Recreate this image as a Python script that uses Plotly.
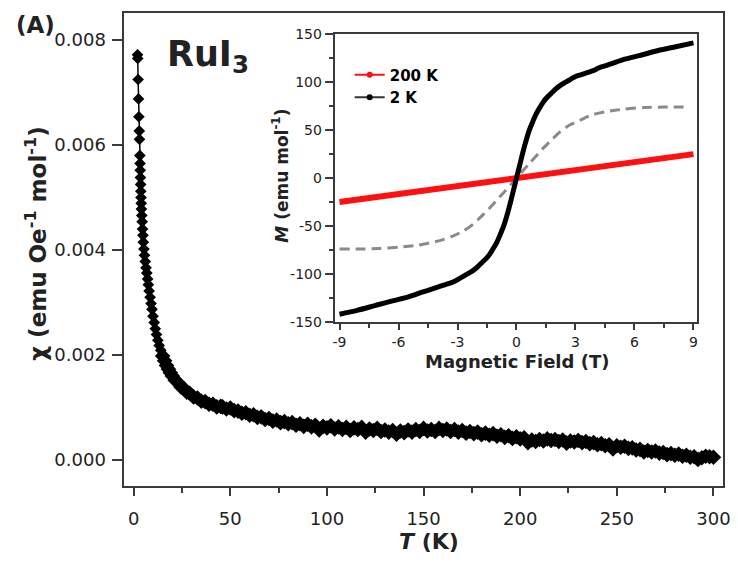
import plotly.graph_objects as go

W, H = 738, 568

# ---- main panel: chi(T) ----
temp_low = [2.0, 2.1, 2.3, 2.5, 2.7, 2.9, 3.0, 3.2, 3.3, 3.4, 3.5, 3.6, 3.7, 3.8, 3.9,
            4.0, 4.2, 4.4, 4.6, 4.8, 5.0, 5.3, 5.6, 6.0, 6.4, 6.8, 7.2, 7.6, 8.0, 8.5,
            9.0, 9.5, 10.0, 10.6, 11.2, 11.8, 12.5, 13.2, 14.0, 15.0, 16.0, 17.0, 18.0,
            19.0, 20.0, 21.5, 23.0, 24.5, 26.0, 27.5, 29.0, 31.0, 33.0, 35.0, 37.0,
            39.0, 41.0, 43.0, 45.0]
chi_low = [0.00772, 0.00765, 0.00725, 0.00688, 0.00654, 0.00627, 0.00611, 0.00580,
           0.00565, 0.00552, 0.00538, 0.00525, 0.00512, 0.00500, 0.00489, 0.00478,
           0.00466, 0.00454, 0.00440, 0.00428, 0.00415, 0.00402, 0.00390, 0.00378,
           0.00366, 0.00356, 0.00345, 0.00334, 0.00322, 0.00310, 0.00298, 0.00287,
           0.00274, 0.00262, 0.00250, 0.00239, 0.00228, 0.00218, 0.00209, 0.00198,
           0.00189, 0.00180, 0.00173, 0.00166, 0.00160, 0.00152, 0.00147, 0.00139,
           0.00136, 0.00129, 0.00127, 0.00120, 0.00118, 0.00112, 0.00111, 0.00106,
           0.00106, 0.00101, 0.00102]

temp_high = [46, 48, 50, 52, 54, 56, 58, 60, 62, 64, 66, 68, 70, 72, 74, 76, 78, 80,
             82, 84, 86, 88, 90, 92, 94, 96, 98, 100, 102, 104, 106, 108, 110, 112,
             114, 116, 118, 120, 122, 124, 126, 128, 130, 132, 134, 136, 138, 140,
             142, 144, 146, 148, 150, 152, 154, 156, 158, 160, 162, 164, 166, 168,
             170, 172, 174, 176, 178, 180, 182, 184, 186, 188, 190, 192, 194, 196,
             198, 200, 202, 204, 206, 208, 210, 212, 214, 216, 218, 220, 222, 224,
             226, 228, 230, 232, 234, 236, 238, 240, 242, 244, 246, 248, 250, 252,
             254, 256, 258, 260, 262, 264, 266, 268, 270, 272, 274, 276, 278, 280,
             282, 284, 286, 288, 290, 292, 294, 296, 298, 300]
chi_high = [0.00101, 0.00097, 0.00099, 0.00094, 0.00093, 0.00089, 0.00090, 0.00085,
            0.00086, 0.00081, 0.00082, 0.00077, 0.00079, 0.00074, 0.00076, 0.00071,
            0.00073, 0.00069, 0.00071, 0.00066, 0.00069, 0.00064, 0.00068, 0.00063,
            0.00066, 0.00057, 0.00064, 0.00061, 0.00065, 0.00059, 0.00063, 0.00058,
            0.00062, 0.00056, 0.00061, 0.00058, 0.00062, 0.00053, 0.00059, 0.00056,
            0.00060, 0.00054, 0.00057, 0.00053, 0.00056, 0.00049, 0.00055, 0.00052,
            0.00057, 0.00053, 0.00058, 0.00054, 0.00060, 0.00055, 0.00058, 0.00054,
            0.00060, 0.00056, 0.00059, 0.00054, 0.00058, 0.00053, 0.00056, 0.00051,
            0.00054, 0.00050, 0.00053, 0.00048, 0.00051, 0.00047, 0.00050, 0.00045,
            0.00048, 0.00043, 0.00046, 0.00041, 0.00044, 0.00040, 0.00042, 0.00033,
            0.00038, 0.00035, 0.00039, 0.00036, 0.00040, 0.00037, 0.00039, 0.00035,
            0.00038, 0.00032, 0.00036, 0.00034, 0.00037, 0.00033, 0.00035, 0.00031,
            0.00033, 0.00029, 0.00031, 0.00027, 0.00029, 0.00021, 0.00027, 0.00024,
            0.00026, 0.00022, 0.00023, 0.00019, 0.00020, 0.00015, 0.00018, 0.00015,
            0.00017, 0.00013, 0.00014, 0.00010, 0.00012, 0.00009, 0.00011, 0.00007,
            0.00009, 0.00005, 0.00006, 0.00001, 0.00004, 0.00007, 0.00006, 0.00005]

temperature = temp_low + temp_high
chi = chi_low + chi_high

# ---- inset: M(H) ----
field_2k = [-9.0, -8.1, -7.2, -6.3, -5.5, -4.8, -4.5, -4.2, -3.9, -3.6, -3.3, -3.0,
            -2.75, -2.5, -2.25, -2.0, -1.75, -1.5, -1.35, -1.17, -1.0, -0.85, -0.67,
            -0.5, -0.34, -0.17, 0.0, 0.17, 0.34, 0.5, 0.67, 0.85, 1.0, 1.17, 1.35,
            1.5, 1.75, 2.0, 2.25, 2.5, 2.75, 3.0, 3.3, 3.6, 3.9, 4.2, 4.5, 4.8, 5.5,
            6.3, 7.2, 8.1, 9.0]
m_2k = [-142, -138, -133, -128, -124, -119, -117, -115, -113, -111, -109, -106,
        -103, -100, -97, -93, -88, -83, -79, -73, -67, -60, -51,
        -40, -28, -14, 0, 14, 28, 40, 51, 60, 67, 73, 79,
        83, 88, 93, 97, 100, 103, 106, 108, 110, 112, 115, 117, 119, 124,
        128, 133, 137, 141]

field_200k = [-9, -6, -3, 0, 3, 6, 9]
m_200k = [-25, -16.7, -8.3, 0, 8.3, 16.7, 25]

field_fit = [-9, -8, -7, -6, -5, -4.3, -3.85, -3.3, -2.68, -2.2, -1.84, -1.4, -1.0,
             -0.6, -0.3, 0, 0.3, 0.6, 1.0, 1.4, 1.84, 2.2, 2.68, 3.3, 3.85, 4.5,
             5.5, 6.5, 7.5, 8.8]
m_fit = [-74, -74, -73.5, -72, -70, -67, -65, -61, -55, -48, -41, -32, -23,
         -14, -7, 0, 7, 14, 23, 32, 41, 48, 55, 61, 66, 69, 72, 73.5, 74, 74]

x_ticks_main = [0, 50, 100, 150, 200, 250, 300]
y_ticks_main = [0.000, 0.002, 0.004, 0.006, 0.008]
y_ticklabels_main = ["0.000", "0.002", "0.004", "0.006", "0.008"]
x_ticks_inset = [-9, -6, -3, 0, 3, 6, 9]
x_ticklabels_inset = ["-9", "-6", "-3", "0", "3", "6", "9"]
y_ticks_inset = [-150, -100, -50, 0, 50, 100, 150]
y_ticklabels_inset = ["-150", "-100", "-50", "0", "50", "100", "150"]

FONT = "DejaVu Sans"
FRAME = "#3a3a3a"
TICKTXT = "#222222"


def px(x):
    return x / W


def py(y):
    return 1 - y / H


# sparse low-temperature diamonds are a bit smaller than the dense high-T band
marker_sizes = [9 if t < 15 else 12 for t in temperature]

fig = go.Figure()

fig.add_trace(go.Scatter(
    x=temperature, y=chi, mode="lines+markers",
    line=dict(color="black", width=1.5),
    marker=dict(symbol="diamond", size=marker_sizes, color="black", opacity=1,
                line=dict(width=0)),
    showlegend=False, xaxis="x", yaxis="y"))

fig.add_trace(go.Scatter(
    x=field_fit, y=m_fit, mode="lines",
    line=dict(color="#8a8a8a", width=3, dash="10px,6px", shape="spline",
              smoothing=0.6),
    showlegend=False, xaxis="x2", yaxis="y2"))
fig.add_trace(go.Scatter(
    x=field_200k, y=m_200k, mode="lines",
    line=dict(color="#ff1010", width=6),
    showlegend=False, xaxis="x2", yaxis="y2"))
fig.add_trace(go.Scatter(
    x=field_2k, y=m_2k, mode="lines",
    line=dict(color="black", width=5, shape="spline", smoothing=0.8),
    showlegend=False, xaxis="x2", yaxis="y2"))

# legend entries (thin line with a dot)
fig.add_trace(go.Scatter(
    x=[None], y=[None], mode="lines+markers", name="200 K",
    line=dict(color="#ff1010", width=2), marker=dict(color="#ff1010", size=6),
    xaxis="x2", yaxis="y2"))
fig.add_trace(go.Scatter(
    x=[None], y=[None], mode="lines+markers", name="2 K",
    line=dict(color="#333333", width=2), marker=dict(color="black", size=6),
    xaxis="x2", yaxis="y2"))

axis_common = dict(showline=True, mirror=True, linecolor=FRAME, showgrid=False,
                   zeroline=False, ticks="outside", tickcolor=FRAME)

fig.update_layout(
    width=W, height=H, margin=dict(l=0, r=0, t=0, b=0),
    paper_bgcolor="white", plot_bgcolor="white",
    font=dict(family=FONT, color=TICKTXT),
    xaxis=dict(domain=[px(124), px(730)], range=[-4.75, 305], anchor="y",
               tickvals=x_ticks_main, ticklen=8, tickwidth=1.5, linewidth=2,
               ticklabelstandoff=7,
               minor=dict(ticks="outside", ticklen=5, tickwidth=1.5, dtick=25,
                          tick0=0, tickcolor=FRAME),
               tickfont=dict(size=18, family=FONT, color=TICKTXT), **axis_common),
    yaxis=dict(domain=[py(492), py(5)], range=[-0.0005, 0.00852], anchor="x",
               tickvals=y_ticks_main, ticktext=y_ticklabels_main, ticklen=10,
               tickwidth=1.5, linewidth=2, ticklabelstandoff=3,
               tickfont=dict(size=18, family=FONT, color=TICKTXT), **axis_common),
    xaxis2=dict(domain=[px(336.7), px(704)], range=[-9.25, 9.2], anchor="y2",
                tickvals=x_ticks_inset, ticktext=x_ticklabels_inset, ticklen=6,
                tickwidth=1.5, linewidth=1.8, ticklabelstandoff=0,
                minor=dict(ticks="outside", ticklen=4, tickwidth=1.5, dtick=1.5,
                           tick0=0, tickcolor=FRAME),
                tickfont=dict(size=14, family=FONT, color=TICKTXT), **axis_common),
    yaxis2=dict(domain=[py(323), py(27)], range=[-150, 150], anchor="x2",
                tickvals=y_ticks_inset, ticktext=y_ticklabels_inset, ticklen=8,
                tickwidth=1.5, linewidth=1.8,
                minor=dict(ticks="outside", ticklen=4, tickwidth=1.5, dtick=25,
                           tick0=0, tickcolor=FRAME),
                tickfont=dict(size=14, family=FONT, color=TICKTXT), **axis_common),
    legend=dict(x=px(352), y=py(52), xanchor="left", yanchor="top",
                bgcolor="rgba(0,0,0,0)", tracegroupgap=0,
                font=dict(size=15, family=FONT, color="black", weight="bold")),
)

annotations = [
    dict(text="<b>(A)</b>", x=px(12), y=py(17), xanchor="left", yanchor="middle",
         font=dict(size=23, color="#222")),
    dict(text="<b>RuI<sub>3</sub></b>", x=px(165), y=py(50), xanchor="left",
         yanchor="middle", font=dict(size=35, color="#222")),
    dict(text="<b><i>T</i> (K)</b>", x=px(432), y=py(549), xanchor="center",
         yanchor="middle", font=dict(size=22, color="#222")),
    dict(text="<b>χ (emu Oe<sup>-1</sup> mol<sup>-1</sup>)</b>", x=px(35), y=py(243),
         xanchor="center", yanchor="middle", textangle=-90,
         font=dict(size=23, color="#222")),
    dict(text="<b>Magnetic Field (T)</b>", x=px(521), y=py(364), xanchor="center",
         yanchor="middle", font=dict(size=18, color="#222")),
    dict(text="<b><i>M</i> (emu mol<sup>-1</sup>)</b>", x=px(282), y=py(173),
         xanchor="center", yanchor="middle", textangle=-90,
         font=dict(size=17, color="#222")),
]
for a in annotations:
    a.update(xref="paper", yref="paper", showarrow=False)
    a["font"]["family"] = FONT
fig.update_layout(annotations=annotations)

fig.write_html("out.html")
